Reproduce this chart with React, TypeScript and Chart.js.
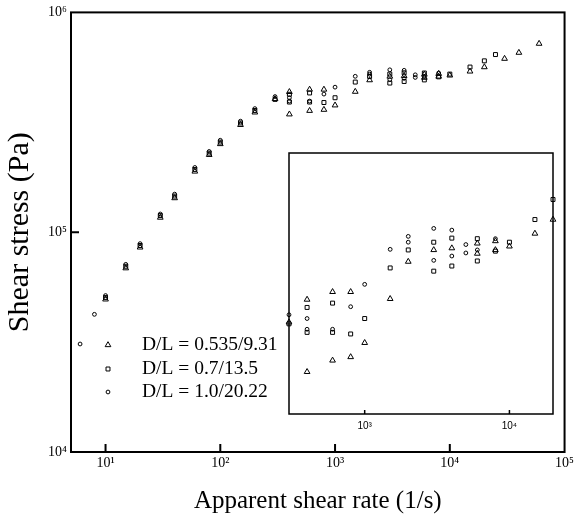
import React, { useEffect, useRef } from 'react';
import { Chart, registerables, PointElement } from 'chart.js';

Chart.register(...registerables);

// ---- data (apparent shear rate [1/s], shear stress [Pa]) ----
const triX = [10, 15, 20, 30, 40, 60, 80, 100, 150, 200, 300, 400, 400, 600, 600, 800, 800, 1000, 1500, 2000, 3000, 4000, 6000, 6000, 8000, 8000, 10000, 15000, 20000, 30000, 40000, 60000];
const triY = [49500, 68600, 85300, 116600, 143000, 189000, 225000, 252000, 308000, 351000, 404000, 435000, 344000, 446000, 357000, 446000, 361000, 378000, 436000, 492000, 511000, 514000, 522000, 505000, 526000, 511000, 517000, 539000, 564000, 616000, 656000, 721000];

const sqX = [10, 15, 20, 30, 40, 60, 80, 100, 150, 200, 300, 400, 400, 600, 600, 800, 1000, 1500, 2000, 3000, 3000, 4000, 4000, 6000, 6000, 8000, 10000, 15000, 20000, 25000];
const sqY = [50500, 70000, 87000, 119000, 146000, 193000, 229000, 257000, 314000, 358000, 402000, 424000, 391000, 430000, 391000, 389000, 409000, 482000, 511000, 524000, 477000, 531000, 485000, 530000, 493000, 509000, 524000, 564000, 602000, 643000];

const cirX = [6, 8, 10, 15, 20, 30, 40, 60, 80, 100, 150, 200, 300, 400, 400, 600, 800, 1000, 1500, 2000, 2000, 3000, 3000, 4000, 4000, 5000, 5000, 6000, 8000];
const cirY = [31000, 42300, 51500, 71400, 88700, 121000, 149000, 197000, 233000, 262000, 320000, 365000, 414000, 409000, 395000, 395000, 425000, 457000, 512000, 534000, 524000, 548000, 494000, 545000, 501000, 520000, 506000, 511000, 530000];

const seriesLabels = ['D/L = 0.535/9.31', 'D/L = 0.7/13.5', 'D/L = 1.0/20.22'];

const mainXTicks = [10, 100, 1000, 10000, 100000];
const mainYTicks = [10000, 100000, 1000000];
const insetXTicks = [1000, 10000];

const xTitle = 'Apparent shear rate (1/s)';
const yTitle = 'Shear stress (Pa)';

// ---- styling ----
const SUP = ['⁰', '¹', '²', '³', '⁴', '⁵', '⁶', '⁷', '⁸', '⁹'];
const pow10 = (v: number) => '10' + SUP[Math.round(Math.log10(v))];
const SERIF = "'Liberation Serif', 'Times New Roman', serif";
const SANS = "'Liberation Sans', Arial, sans-serif";
const styles = [
  { pointStyle: 'triangle', radius: 3.3 },
  { pointStyle: 'rect', radius: 2.8 },
  { pointStyle: 'circle', radius: 1.9 },
];

const toPts = (xs: number[], ys: number[]) => xs.map((x, i) => ({ x, y: ys[i] }));
const allSeries = [toPts(triX, triY), toPts(sqX, sqY), toPts(cirX, cirY)];

const makeDatasets = (filter?: (p: { x: number; y: number }) => boolean) =>
  allSeries.map((pts, i) => ({
    label: seriesLabels[i],
    data: filter ? pts.filter(filter) : pts,
    pointStyle: styles[i].pointStyle as any,
    pointRadius: styles[i].radius,
    pointHoverRadius: styles[i].radius,
    pointBorderWidth: 1,
    borderColor: '#000',
    backgroundColor: 'rgba(0,0,0,0)',
    showLine: false,
    clip: 6,
  }));

const mainDecor = {
  id: 'mainDecor',
  afterDraw(chart: any) {
    const { ctx, chartArea: a, scales } = chart;
    ctx.save();
    ctx.strokeStyle = '#000';
    ctx.lineWidth = 2;
    ctx.strokeRect(a.left, a.top, a.right - a.left, a.bottom - a.top);
    ctx.beginPath();
    for (const v of mainXTicks) {
      const px = scales.x.getPixelForValue(v);
      if (px > a.left + 2 && px < a.right - 2) {
        ctx.moveTo(px, a.bottom);
        ctx.lineTo(px, a.bottom - 8);
      }
    }
    for (const v of mainYTicks) {
      const py = scales.y.getPixelForValue(v);
      if (py > a.top + 2 && py < a.bottom - 2) {
        ctx.moveTo(a.left, py);
        ctx.lineTo(a.left + 8, py);
      }
    }
    ctx.stroke();
    // legend
    const mx = a.left + 37;
    const tx = a.left + 71;
    const rows = [a.bottom - 107, a.bottom - 83, a.bottom - 60];
    rows.forEach((ry, i) => {
      const el: any = new PointElement({} as any);
      el.x = mx;
      el.y = ry;
      el.options = {
        pointStyle: styles[i].pointStyle,
        radius: styles[i].radius,
        rotation: 0,
        borderWidth: 1,
        borderColor: '#000',
        backgroundColor: 'rgba(0,0,0,0)',
      };
      ctx.save();
      el.draw(ctx);
      ctx.restore();
      ctx.save();
      ctx.font = `19.5px ${SERIF}`;
      ctx.fillStyle = '#000';
      ctx.textBaseline = 'middle';
      ctx.textAlign = 'left';
      ctx.fillText(seriesLabels[i], tx, ry);
      ctx.restore();
    });
    ctx.restore();
  },
};

const insetDecor = {
  id: 'insetDecor',
  afterDraw(chart: any) {
    const { ctx, chartArea: a, scales } = chart;
    ctx.save();
    ctx.strokeStyle = '#000';
    ctx.lineWidth = 1.5;
    ctx.strokeRect(a.left, a.top, a.right - a.left, a.bottom - a.top);
    ctx.beginPath();
    for (const v of insetXTicks) {
      const px = scales.x.getPixelForValue(v);
      ctx.moveTo(px, a.bottom);
      ctx.lineTo(px, a.bottom - 4);
    }
    ctx.stroke();
    ctx.restore();
  },
};

export default function App() {
  const mainRef = useRef<HTMLCanvasElement>(null);
  const insetRef = useRef<HTMLCanvasElement>(null);

  useEffect(() => {
    const main = new Chart(mainRef.current as HTMLCanvasElement, {
      type: 'scatter',
      data: { datasets: makeDatasets() as any },
      options: {
        responsive: false,
        animation: false,
        layout: { padding: { left: 0, top: 12, right: 8, bottom: 0 } },
        plugins: { legend: { display: false }, tooltip: { enabled: false } },
        scales: {
          x: {
            type: 'logarithmic',
            min: 5,
            max: 100000,
            grid: { display: false, drawTicks: false },
            border: { display: false },
            afterBuildTicks: (s: any) => { s.ticks = mainXTicks.map((v) => ({ value: v })); },
            afterFit: (s: any) => { s.height = 65; },
            ticks: {
              autoSkip: false,
              maxRotation: 0,
              padding: 3,
              color: '#000',
              font: { family: SERIF, size: 14 },
              callback: (v: any) => pow10(Number(v)),
            },
            title: {
              display: true,
              text: xTitle,
              color: '#000',
              font: { family: SERIF, size: 25 },
              padding: { top: 0, bottom: 1 },
            },
          },
          y: {
            type: 'logarithmic',
            min: 10000,
            max: 1000000,
            grid: { display: false, drawTicks: false },
            border: { display: false },
            afterBuildTicks: (s: any) => { s.ticks = mainYTicks.map((v) => ({ value: v })); },
            afterFit: (s: any) => { s.width = 71; },
            ticks: {
              autoSkip: false,
              padding: 4,
              color: '#000',
              font: { family: SERIF, size: 14 },
              callback: (v: any) => pow10(Number(v)),
            },
            title: {
              display: true,
              text: yTitle,
              color: '#000',
              font: { family: SERIF, size: 30 },
              padding: { top: 2, bottom: 0 },
            },
          },
        },
      },
      plugins: [mainDecor],
    } as any);

    const inset = new Chart(insetRef.current as HTMLCanvasElement, {
      type: 'scatter',
      data: { datasets: makeDatasets((p) => p.x >= 300 && p.x <= 20000) as any },
      options: {
        responsive: false,
        animation: false,
        layout: { padding: { left: 10, top: 10, right: 17, bottom: 0 } },
        plugins: { legend: { display: false }, tooltip: { enabled: false } },
        scales: {
          x: {
            type: 'logarithmic',
            min: 300,
            max: 20000,
            grid: { display: false, drawTicks: false },
            border: { display: false },
            afterBuildTicks: (s: any) => { s.ticks = insetXTicks.map((v) => ({ value: v })); },
            afterFit: (s: any) => { s.height = 29; },
            ticks: {
              autoSkip: false,
              maxRotation: 0,
              padding: 6,
              color: '#000',
              font: { family: SANS, size: 10 },
              callback: (v: any) => pow10(Number(v)),
            },
          },
          y: {
            type: 'logarithmic',
            min: 300000,
            max: 700000,
            display: false,
          },
        },
      },
      plugins: [insetDecor],
    } as any);

    return () => {
      main.destroy();
      inset.destroy();
    };
  }, []);

  return (
    <div style={{ position: 'absolute', left: 0, top: 0, width: 577, height: 517, background: '#fff' }}>
      <canvas ref={mainRef} width={577} height={517} style={{ position: 'absolute', left: 0, top: 0 }} />
      <canvas ref={insetRef} width={291} height={300} style={{ position: 'absolute', left: 279, top: 143 }} />
    </div>
  );
}
